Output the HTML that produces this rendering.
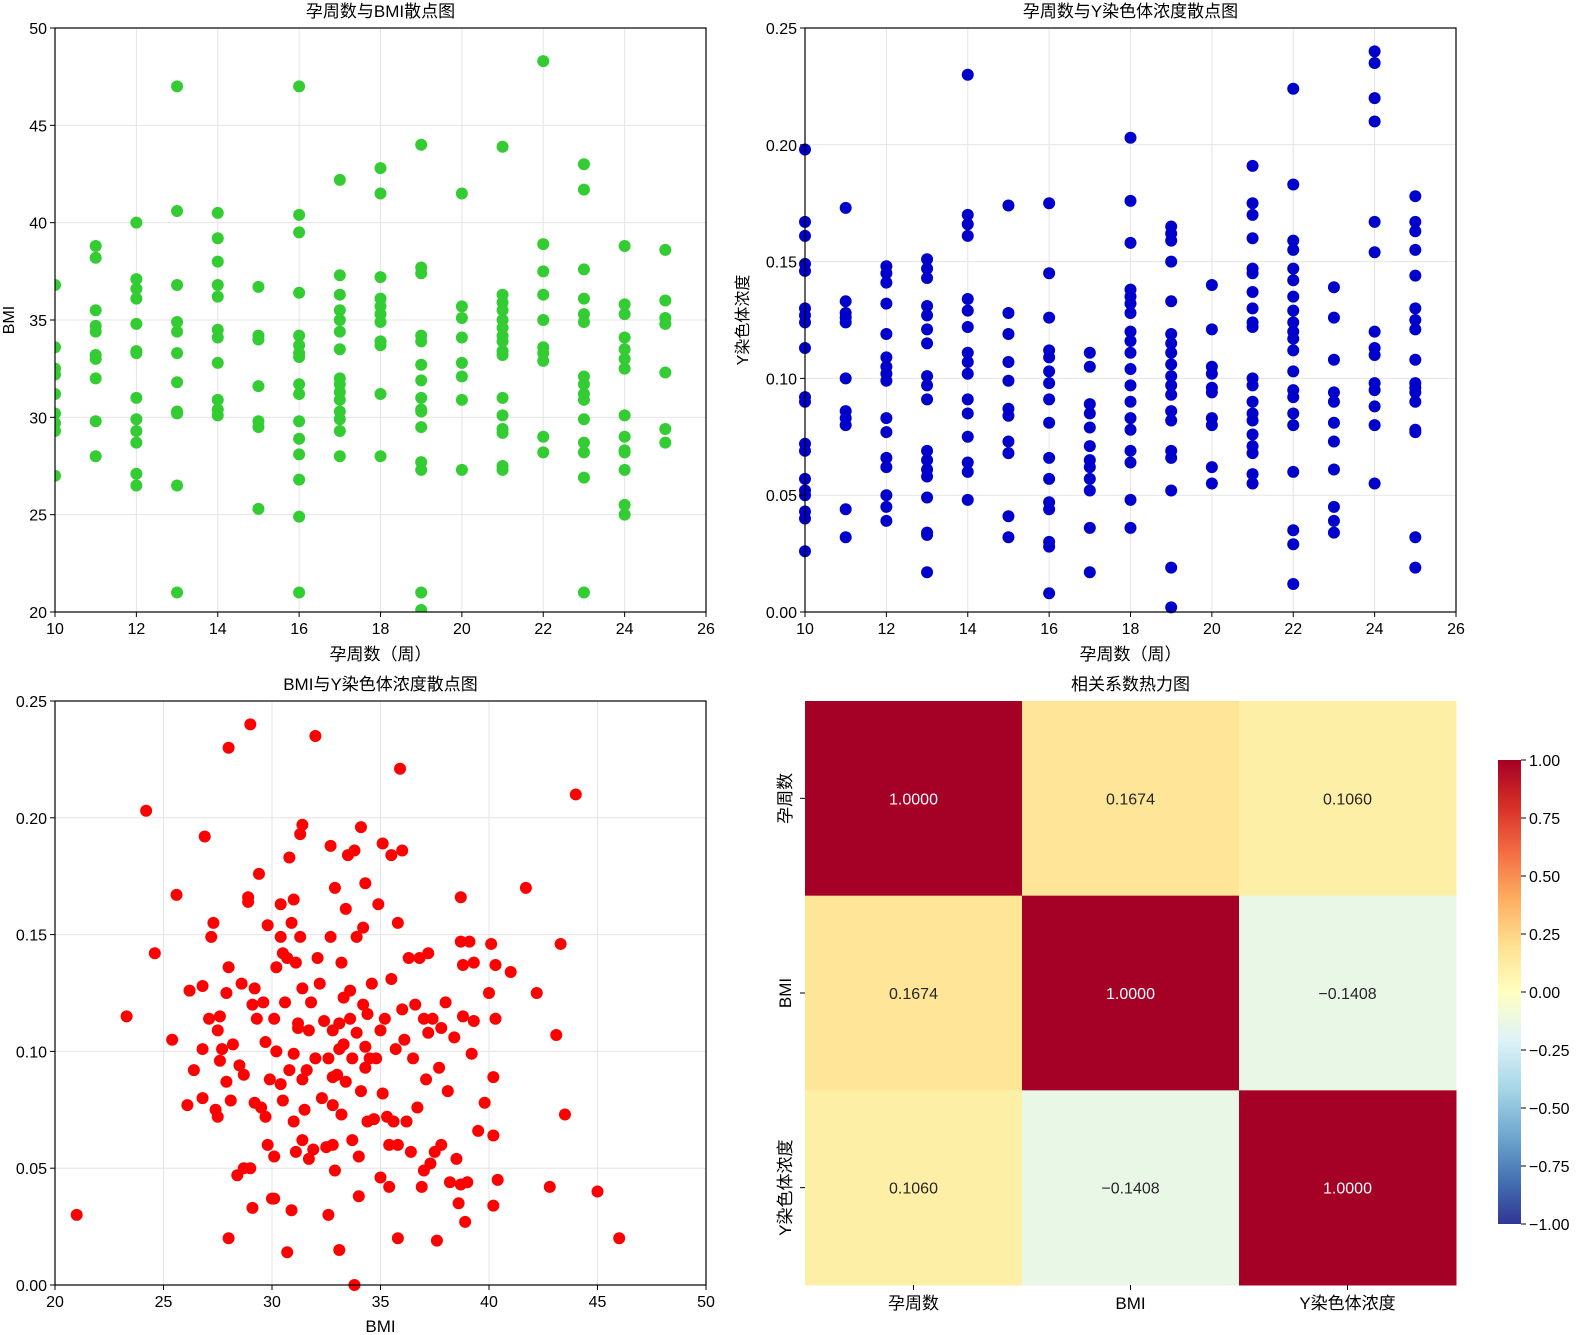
<!DOCTYPE html>
<html><head><meta charset="utf-8"><style>
html,body{margin:0;padding:0;background:#fff;}
svg{display:block;font-family:"Liberation Sans","WenQuanYi Zen Hei","Noto Sans CJK SC",sans-serif;}
</style></head><body>
<svg id="fig" width="1594" height="1335" viewBox="0 0 1594 1335" xmlns="http://www.w3.org/2000/svg">
<defs>
<linearGradient id="cbgrad" x1="0" y1="1" x2="0" y2="0">
<stop offset="0" stop-color="#313695"/><stop offset="0.1" stop-color="#4575b4"/><stop offset="0.2" stop-color="#74add1"/><stop offset="0.3" stop-color="#abd9e9"/><stop offset="0.4" stop-color="#e0f3f8"/><stop offset="0.5" stop-color="#ffffbf"/><stop offset="0.6" stop-color="#fee090"/><stop offset="0.7" stop-color="#fdae61"/><stop offset="0.8" stop-color="#f46d43"/><stop offset="0.9" stop-color="#d73027"/><stop offset="1" stop-color="#a50026"/>
</linearGradient>
</defs>
</svg>
<script>
// ---------- data ----------
const weeks = [10,11,12,13,14,15,16,17,18,19,20,21,22,23,24,25];
const bmiByWeek = [
[36.8,33.6,32.5,32.2,31.2,30.2,29.7,29.3,27.0],
[38.8,38.2,35.5,34.7,34.4,33.2,33.0,32.0,29.8,28.0],
[40.0,37.1,36.6,36.1,34.8,33.4,33.3,31.0,29.9,29.3,28.7,27.1,26.5],
[47.0,40.6,36.8,34.9,34.4,33.3,31.8,30.3,30.2,26.5,21.0],
[40.5,39.2,38.0,36.8,36.2,34.5,34.1,32.8,30.9,30.4,30.1],
[36.7,34.2,34.0,31.6,29.8,29.5,25.3],
[47.0,40.4,39.5,36.4,34.2,33.7,33.3,33.1,31.7,31.2,29.8,28.9,28.1,26.8,24.9,21.0],
[42.2,37.3,36.3,35.5,35.0,34.4,33.5,32.0,31.7,31.3,30.9,30.3,29.9,29.3,28.0],
[42.8,41.5,37.2,36.1,35.7,35.3,34.9,33.9,33.7,31.2,28.0],
[44.0,37.7,37.4,34.2,33.9,32.7,31.9,31.0,30.4,30.3,29.5,27.7,27.3,21.0,20.1],
[41.5,35.7,35.1,34.1,32.8,32.1,30.9,27.3],
[43.9,36.3,35.9,35.5,35.0,34.6,34.2,33.9,33.4,33.2,31.0,30.1,29.4,29.2,27.5,27.3],
[48.3,38.9,37.5,36.3,35.0,33.6,33.3,32.9,29.0,28.2],
[43.0,41.7,37.6,36.1,35.3,34.9,32.1,31.7,31.2,30.9,29.9,28.7,28.2,26.9,21.0],
[38.8,35.8,35.3,34.1,33.5,33.0,32.5,30.1,29.0,28.3,28.2,27.3,25.5,25.0],
[38.6,36.0,35.1,34.8,32.3,29.4,28.7]
];
const yByWeek = [
[0.198,0.167,0.161,0.149,0.146,0.130,0.127,0.124,0.113,0.092,0.090,0.072,0.069,0.057,0.052,0.050,0.043,0.040,0.026],
[0.173,0.133,0.128,0.126,0.124,0.100,0.086,0.083,0.080,0.044,0.032],
[0.148,0.145,0.141,0.132,0.119,0.109,0.105,0.102,0.099,0.083,0.077,0.066,0.062,0.050,0.045,0.039],
[0.151,0.147,0.143,0.131,0.127,0.121,0.115,0.101,0.097,0.091,0.069,0.065,0.061,0.058,0.049,0.034,0.033,0.017],
[0.230,0.170,0.166,0.161,0.134,0.129,0.122,0.111,0.107,0.102,0.091,0.085,0.075,0.064,0.060,0.048],
[0.174,0.128,0.119,0.107,0.099,0.087,0.084,0.073,0.068,0.041,0.032],
[0.175,0.145,0.126,0.112,0.109,0.103,0.098,0.091,0.081,0.066,0.057,0.047,0.044,0.030,0.028,0.008],
[0.111,0.105,0.089,0.085,0.079,0.071,0.065,0.062,0.057,0.052,0.036,0.017],
[0.203,0.176,0.158,0.138,0.135,0.132,0.128,0.120,0.116,0.111,0.104,0.097,0.090,0.083,0.078,0.069,0.064,0.048,0.036],
[0.165,0.162,0.159,0.150,0.133,0.119,0.115,0.111,0.106,0.101,0.097,0.093,0.086,0.082,0.069,0.066,0.052,0.019,0.002],
[0.140,0.121,0.105,0.102,0.096,0.094,0.083,0.080,0.062,0.055],
[0.191,0.175,0.170,0.160,0.147,0.145,0.137,0.130,0.124,0.122,0.100,0.097,0.090,0.085,0.082,0.076,0.071,0.068,0.059,0.055],
[0.224,0.183,0.159,0.155,0.147,0.142,0.135,0.129,0.124,0.120,0.117,0.112,0.103,0.095,0.092,0.085,0.080,0.060,0.035,0.029,0.012],
[0.139,0.126,0.108,0.094,0.090,0.081,0.073,0.061,0.045,0.039,0.034],
[0.240,0.235,0.220,0.210,0.167,0.154,0.120,0.113,0.110,0.098,0.095,0.088,0.080,0.055],
[0.178,0.167,0.163,0.155,0.144,0.130,0.125,0.121,0.108,0.098,0.096,0.094,0.090,0.078,0.077,0.032,0.019]
];
const bmiVals = [21.0,23.3,24.2,24.6,25.4,25.6,26.1,26.2,26.4,26.8,26.8,26.9,26.8,27.1,27.2,27.3,27.4,27.5,27.5,27.6,27.6,27.7,27.9,28.0,27.9,28.0,28.0,28.1,28.2,28.4,28.5,28.6,28.7,28.7,28.9,28.9,29.0,29.0,29.1,29.1,29.2,29.3,29.2,29.4,29.5,29.6,29.7,29.7,29.8,29.8,29.9,30.0,30.1,30.1,30.1,30.2,30.2,30.4,30.4,30.4,30.5,30.5,30.6,30.7,30.7,30.8,30.8,30.9,30.9,31.0,31.0,31.0,31.1,31.1,31.2,31.2,31.3,31.3,31.4,31.4,31.4,31.4,31.5,31.6,31.7,31.7,31.8,31.9,32.0,32.0,32.1,32.2,32.3,32.4,32.5,32.6,32.6,32.7,32.7,32.8,32.8,32.8,32.8,32.9,32.9,33.0,33.1,33.1,33.1,33.2,33.2,33.3,33.3,33.4,33.4,33.5,33.6,33.6,33.7,33.7,33.8,33.8,33.9,33.9,34.0,34.0,34.1,34.1,34.2,34.2,34.3,34.3,34.3,34.4,34.4,34.5,34.6,34.7,34.8,34.9,35.0,35.0,35.1,35.1,35.2,35.3,35.4,35.4,35.5,35.5,35.6,35.7,35.8,35.8,35.8,35.9,36.0,36.0,36.1,36.2,36.3,36.4,36.5,36.6,36.7,36.8,36.9,37.0,37.0,37.1,37.2,37.2,37.3,37.4,37.5,37.6,37.7,37.8,37.8,38.0,38.1,38.2,38.4,38.5,38.6,38.7,38.7,38.7,38.8,38.8,38.9,39.0,39.1,39.2,39.3,39.3,39.5,39.8,40.0,40.1,40.2,40.2,40.2,40.3,40.3,40.4,41.0,41.7,42.2,42.8,43.1,43.3,43.5,44.0,45.0,46.0];
const yConcVals = [0.030,0.115,0.203,0.142,0.105,0.167,0.077,0.126,0.092,0.128,0.080,0.192,0.101,0.114,0.149,0.155,0.075,0.072,0.109,0.115,0.096,0.101,0.087,0.136,0.125,0.020,0.230,0.079,0.103,0.047,0.094,0.129,0.050,0.090,0.166,0.164,0.240,0.050,0.033,0.120,0.127,0.114,0.078,0.176,0.076,0.121,0.104,0.072,0.154,0.060,0.088,0.037,0.114,0.037,0.055,0.100,0.136,0.149,0.086,0.163,0.079,0.142,0.121,0.140,0.014,0.183,0.092,0.032,0.155,0.099,0.165,0.070,0.138,0.057,0.110,0.112,0.193,0.149,0.088,0.197,0.062,0.127,0.075,0.092,0.109,0.054,0.121,0.058,0.235,0.097,0.140,0.129,0.080,0.113,0.059,0.030,0.097,0.149,0.188,0.089,0.109,0.060,0.077,0.170,0.049,0.090,0.015,0.112,0.101,0.073,0.138,0.123,0.103,0.087,0.161,0.184,0.126,0.114,0.097,0.062,0.186,0.000,0.149,0.108,0.038,0.055,0.196,0.083,0.120,0.153,0.172,0.093,0.102,0.116,0.070,0.097,0.129,0.071,0.097,0.163,0.046,0.109,0.189,0.082,0.114,0.072,0.042,0.060,0.131,0.184,0.070,0.101,0.020,0.060,0.155,0.221,0.186,0.118,0.105,0.070,0.140,0.057,0.097,0.120,0.076,0.140,0.042,0.114,0.049,0.088,0.142,0.108,0.052,0.114,0.057,0.019,0.093,0.060,0.110,0.121,0.083,0.044,0.106,0.054,0.035,0.166,0.147,0.043,0.137,0.115,0.027,0.044,0.147,0.099,0.113,0.138,0.066,0.078,0.125,0.146,0.034,0.064,0.089,0.114,0.137,0.045,0.134,0.170,0.125,0.042,0.107,0.146,0.073,0.210,0.040,0.020];
const corrLabels = ["孕周数","BMI","Y染色体浓度"];
const corrRow0 = [1.0000,0.1674,0.1060];
const corrRow1 = [0.1674,1.0000,-0.1408];
const corrRow2 = [0.1060,-0.1408,1.0000];
const wkTicks = [10,12,14,16,18,20,22,24,26];
const bmiTicks = [20,25,30,35,40,45,50];
const yTicks = [0,0.05,0.10,0.15,0.20,0.25];
const yTickLabels = ["0.00","0.05","0.10","0.15","0.20","0.25"];
const cbTicks = [-1,-0.75,-0.5,-0.25,0,0.25,0.5,0.75,1];
const cbTickLabels = ["−1.00","−0.75","−0.50","−0.25","0.00","0.25","0.50","0.75","1.00"];

// ---------- drawing ----------
const NS = "http://www.w3.org/2000/svg";
const svg = document.getElementById("fig");
function mk(tag, attrs, parent, text){
  const e = document.createElementNS(NS, tag);
  for (const k in attrs) e.setAttribute(k, attrs[k]);
  if (text !== undefined) e.textContent = text;
  (parent || svg).appendChild(e);
  return e;
}
function lin(d0,d1,r0,r1){ return v => r0 + (v-d0)/(d1-d0)*(r1-r0); }
const FONT = 16;

function axesFrame(g, L,R,T,B, xt, xlab, xs, yt, ylab, ys){
  xt.forEach((v,i)=>{
    const x = xs(v);
    mk("line",{x1:x,x2:x,y1:T,y2:B,stroke:"#e5e5e5","stroke-width":1},g);
  });
  yt.forEach((v,i)=>{
    const y = ys(v);
    mk("line",{x1:L,x2:R,y1:y,y2:y,stroke:"#e5e5e5","stroke-width":1},g);
  });
}
function axesTicks(g, L,R,T,B, xt, xlab, xs, yt, ylab, ys){
  mk("rect",{x:L,y:T,width:R-L,height:B-T,fill:"none",stroke:"#000","stroke-width":1.2},g);
  xt.forEach((v,i)=>{
    const x = xs(v);
    mk("line",{x1:x,x2:x,y1:B,y2:B+5,stroke:"#000"},g);
    const t = mk("text",{x:x,y:B+22,"text-anchor":"middle","font-size":FONT,fill:"#000"},g,xlab[i]);
    
    
  });
  yt.forEach((v,i)=>{
    const y = ys(v);
    mk("line",{x1:L-5,x2:L,y1:y,y2:y,stroke:"#000"},g);
    const t = mk("text",{x:L-8,y:y+6,"text-anchor":"end","font-size":FONT,fill:"#000"},g,ylab[i]);
    
    
  });
}
function title(x,y,s,name){
  const t = mk("text",{x:x,y:y,"text-anchor":"middle","font-size":17,fill:"#000"},svg,s);
  
  
}
function ylabel(x,y,s,name){
  const t = mk("text",{x:x,y:y,"text-anchor":"middle","font-size":16,fill:"#000",transform:"rotate(-90 "+x+" "+y+")"},svg,s);
  
  
}

// Panel 1
(function(){
  const L=55,R=706,T=28,B=612;
  const xs=lin(10,26,L,R), ys=lin(20,50,B,T);
  const g=mk("g",{});
  
  
  axesFrame(g,L,R,T,B,wkTicks,null,xs,bmiTicks,null,ys);
  const cp=mk("clipPath",{id:"c1"},g); mk("rect",{x:L,y:T,width:R-L,height:B-T},cp);
  const pg=mk("g",{"clip-path":"url(#c1)"},g);
  weeks.forEach((w,i)=>bmiByWeek[i].forEach(v=>{
    const c=mk("circle",{cx:xs(w),cy:ys(v),r:6,fill:"#33cc33"},pg);
    
    
  }));
  axesTicks(g,L,R,T,B,wkTicks,wkTicks.map(String),xs,bmiTicks,bmiTicks.map(String),ys);
  title((L+R)/2,17,"孕周数与BMI散点图","chart-title-1");
  title((L+R)/2,660,"孕周数（周）","x-axis-title-1");
  ylabel(14,(T+B)/2,"BMI","y-axis-title-1");
})();

// Panel 2
(function(){
  const L=805,R=1456,T=28,B=612;
  const xs=lin(10,26,L,R), ys=lin(0,0.25,B,T);
  const g=mk("g",{});
  
  
  axesFrame(g,L,R,T,B,wkTicks,null,xs,yTicks,null,ys);
  const cp=mk("clipPath",{id:"c2"},g); mk("rect",{x:L-7,y:T-7,width:R-L+14,height:B-T+14},cp);
  const pg=mk("g",{"clip-path":"url(#c2)"},g);
  weeks.forEach((w,i)=>yByWeek[i].forEach(v=>{
    const c=mk("circle",{cx:xs(w),cy:ys(v),r:6,fill:"#0000cc"},pg);
    
    
  }));
  axesTicks(g,L,R,T,B,wkTicks,wkTicks.map(String),xs,yTicks,yTickLabels,ys);
  title((L+R)/2,17,"孕周数与Y染色体浓度散点图","chart-title-2");
  title((L+R)/2,660,"孕周数（周）","x-axis-title-2");
  ylabel(748,(T+B)/2,"Y染色体浓度","y-axis-title-2");
})();

// Panel 3
(function(){
  const L=55,R=706,T=701,B=1285;
  const bt=[20,25,30,35,40,45,50];
  const xs=lin(20,50,L,R), ys=lin(0,0.25,B,T);
  const g=mk("g",{});
  
  
  axesFrame(g,L,R,T,B,bt,null,xs,yTicks,null,ys);
  const cp=mk("clipPath",{id:"c3"},g); mk("rect",{x:L-7,y:T-7,width:R-L+14,height:B-T+14},cp);
  const pg=mk("g",{"clip-path":"url(#c3)"},g);
  bmiVals.forEach((b,i)=>{
    const c=mk("circle",{cx:xs(b),cy:ys(yConcVals[i]),r:6,fill:"#ff0000"},pg);
    
    
  });
  axesTicks(g,L,R,T,B,bt,bt.map(String),xs,yTicks,yTickLabels,ys);
  title((L+R)/2,690,"BMI与Y染色体浓度散点图","chart-title-3");
  title((L+R)/2,1332,"BMI","x-axis-title-3");
})();

// Heatmap
const rdStops=[[-1,[49,54,149]],[-0.8,[69,117,180]],[-0.6,[116,173,209]],[-0.4,[171,217,233]],[-0.2,[224,243,248]],[0,[255,255,191]],[0.2,[254,224,144]],[0.4,[253,174,97]],[0.6,[244,109,67]],[0.8,[215,48,39]],[1,[165,0,38]]];
function cmap(v){
  for(let i=0;i<rdStops.length-1;i++){
    const a=rdStops[i],b=rdStops[i+1];
    if(v>=a[0]&&v<=b[0]){const t=(v-a[0])/(b[0]-a[0]);
      return "rgb("+a[1].map((c,k)=>Math.round(c+(b[1][k]-c)*t)).join(",")+")";}
  }
  return "rgb(165,0,38)";
}
(function(){
  const L=805,R=1456,T=701,B=1285;
  const rows=[corrRow0,corrRow1,corrRow2];
  const cw=(R-L)/3, ch=(B-T)/3;
  const g=mk("g",{});
  
  
  rows.forEach((row,i)=>row.forEach((v,j)=>{
    const r=mk("rect",{x:L+j*cw,y:T+i*ch,width:cw+0.5,height:ch+0.5,fill:cmap(v)},g);
    
    
    const t=mk("text",{x:L+j*cw+cw/2,y:T+i*ch+ch/2+6,"text-anchor":"middle","font-size":16,fill:Math.abs(v)>0.6?"#fff":"#262626"},g,(v<0?"−":"")+Math.abs(v).toFixed(4));
    
    
  }));
  corrLabels.forEach((s,i)=>{
    const x=L+i*cw+cw/2;
    mk("line",{x1:x,x2:x,y1:B,y2:B+5,stroke:"#000"},g);
    const t=mk("text",{x:x,y:B+24,"text-anchor":"middle","font-size":17,fill:"#000"},g,s);
    
    
    const y=T+i*ch+ch/2;
    mk("line",{x1:L-5,x2:L,y1:y,y2:y,stroke:"#000"},g);
    const t2=mk("text",{x:L-14,y:y,"text-anchor":"middle","font-size":17,fill:"#000",transform:"rotate(-90 "+(L-14)+" "+y+")"},g,s);
    
    
  });
  title((L+R)/2,690,"相关系数热力图","chart-title-4");
  // colorbar
  const CL=1498,CR=1521,CT=760,CB=1224;
  const cy=lin(-1,1,CB,CT);
  const cb=mk("rect",{x:CL,y:CT,width:CR-CL,height:CB-CT,fill:"url(#cbgrad)"},g);
  
  
  cbTicks.forEach((v,i)=>{
    const y=cy(v);
    mk("line",{x1:CR,x2:CR+5,y1:y,y2:y,stroke:"#000"},g);
    const t=mk("text",{x:CR+8,y:y+6,"font-size":16,fill:"#000"},g,cbTickLabels[i]);
    
    
  });
})();
</script>
</body></html>
